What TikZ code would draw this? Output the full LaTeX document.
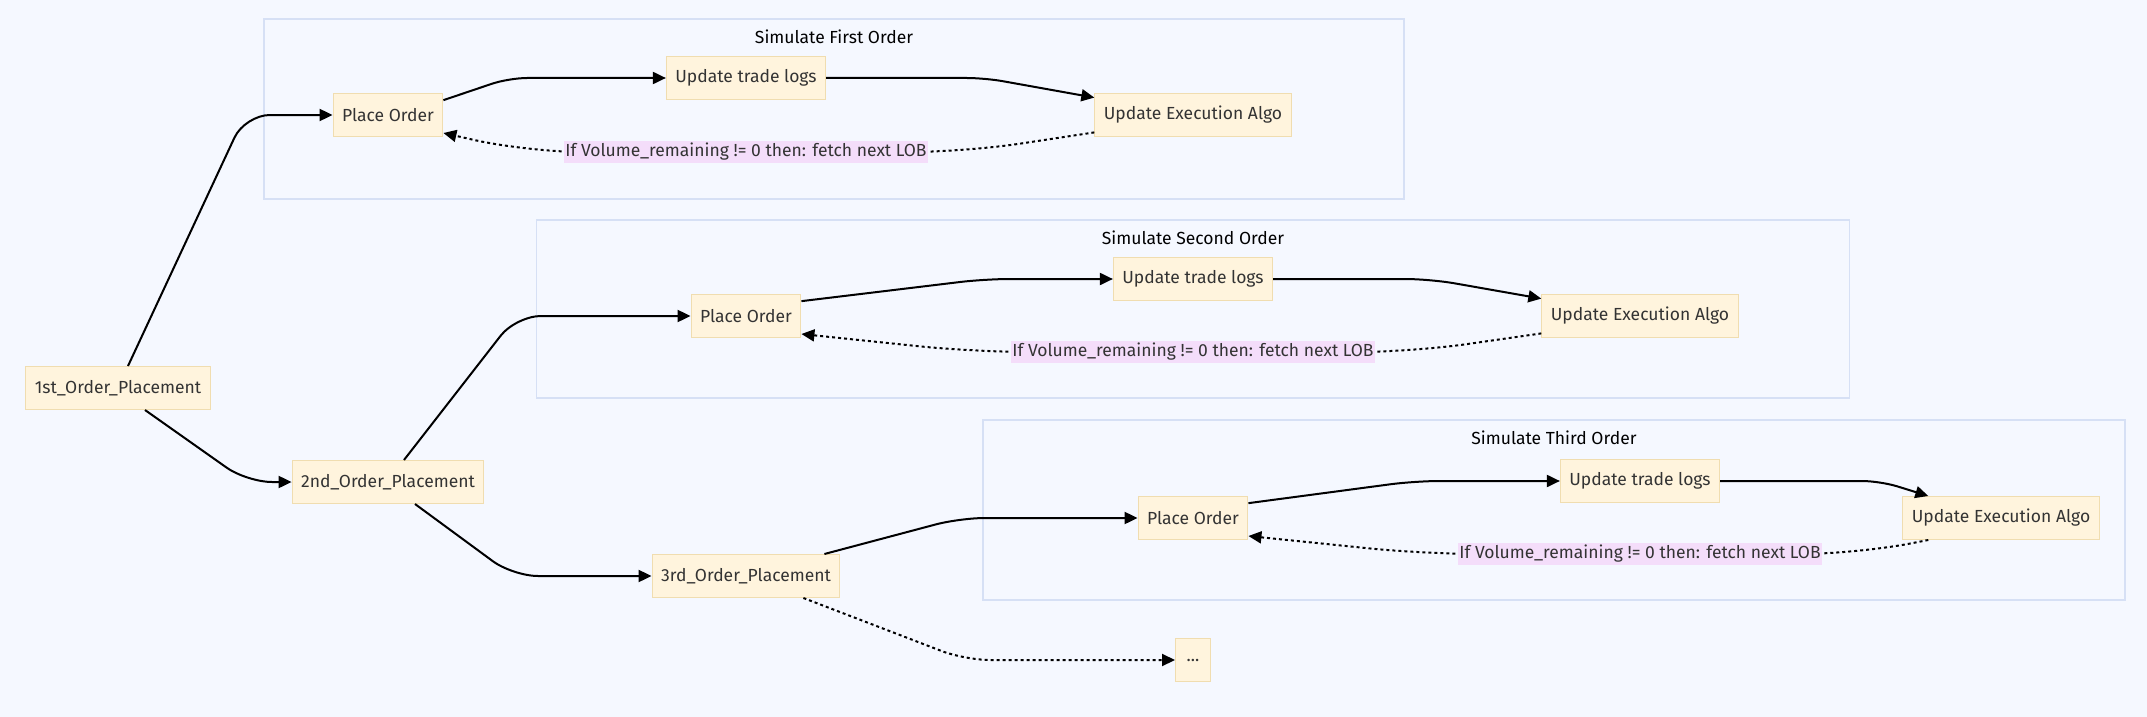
\documentclass[tikz,border=0pt]{standalone}
\usepackage{fontspec}
\setmainfont{Fira Sans}
\usetikzlibrary{arrows.meta, positioning}

\definecolor{pagebg}{HTML}{F5F8FF}
\definecolor{boxfill}{HTML}{FFF4DD}
\definecolor{boxline}{HTML}{F0DDB0}
\definecolor{clusterline}{HTML}{D6E0F5}
\definecolor{labelfill}{HTML}{F4DDFA}
\definecolor{inkgray}{HTML}{333333}

\begin{document}
\begin{tikzpicture}[
  x=1pt, y=-1pt,
  >={Triangle[length=13pt,width=12pt]},
  box/.style={
    draw=boxline, fill=boxfill, line width=1pt,
    minimum height=43pt, inner xsep=9pt,
    font=\fontsize{17.5}{20}\selectfont, text=inkgray
  },
  cluster/.style={
    draw=clusterline, fill=pagebg, line width=1.3pt
  },
  clustertitle/.style={font=\fontsize{17.5}{20}\selectfont, text=black},
  edgelabel/.style={
    sharp corners, fill=labelfill, inner xsep=1pt, inner ysep=2pt,
    font=\fontsize{17.5}{20}\selectfont, text=inkgray
  },
  arrow/.style={->, line width=2pt, rounded corners=25pt},
  loopback/.style={arrow, dash pattern=on 3pt off 3pt, rounded corners=55pt}
]
\useasboundingbox[fill=pagebg] (0,0) rectangle (2147,717);

% --- Subgraph frames ---
\node[cluster, minimum width=1140pt, minimum height=180pt] (simfirst)  at (834,109)  {};
\node[cluster, minimum width=1313pt, minimum height=178pt] (simsecond) at (1193,309) {};
\node[cluster, minimum width=1142pt, minimum height=180pt] (simthird)  at (1554,510) {};
\node[clustertitle, below=8pt of simfirst.north]  (tfirst)  {Simulate First Order};
\node[clustertitle, below=8pt of simsecond.north] (tsecond) {Simulate Second Order};
\node[clustertitle, below=8pt of simthird.north]  (tthird)  {Simulate Third Order};

% --- Order placement chain ---
\node[box] (first)  at (118,388) {1st\_Order\_Placement};
\node[box] (second) at (388,482) {2nd\_Order\_Placement};
\node[box] (third)  at (746,576) {3rd\_Order\_Placement};
\node[box, inner xsep=3pt, minimum width=35pt] (more) at (1193,660) {...};

% --- Simulation steps ---
\node[box] (placeA) at (388,115)  {Place Order};
\node[box] (logsA)  at (746,78)   {Update trade logs};
\node[box] (algoA)  at (1193,115) {Update Execution Algo};

\node[box] (placeB) at (746,316)  {Place Order};
\node[box] (logsB)  at (1193,279) {Update trade logs};
\node[box] (algoB)  at (1640,316) {Update Execution Algo};

\node[box] (placeC) at (1193,518) {Place Order};
\node[box] (logsC)  at (1640,481) {Update trade logs};
\node[box] (algoC)  at (2001,518) {Update Execution Algo};

% --- Chain edges ---
\draw[arrow] ([xshift=10pt]first.north) -- (245,115) -- (placeA.west);
\draw[arrow] ([xshift=27pt]first.south) -- (247,482) -- (second.west);
\draw[arrow] ([xshift=16pt]second.north) -- (516,316) -- (placeB.west);
\draw[arrow] ([xshift=27pt]second.south) -- (513,576) -- (third.west);
\draw[arrow] ([xshift=-16pt]third.north east) -- (960,518) -- (placeC.west);
\draw[arrow, dash pattern=on 3pt off 3pt] ([xshift=-37pt]third.south east) -- (965,660) -- (more.west);

% --- First order loop ---
\draw[arrow, rounded corners=18pt] (placeA.15) -- (509,78) -- (logsA.west);
\draw[arrow, rounded corners=18pt] (logsA.east) -- (985,78) -- (algoA.170);
\draw[loopback] (algoA.190) -- (965,152)
  -- node[edgelabel]{If Volume\_remaining != 0 then: fetch next LOB} (527,152) -- (placeA.-18);

% --- Second order loop ---
\draw[arrow] (placeB.15) -- (985,279) -- (logsB.west);
\draw[arrow] (logsB.east) -- (1430,279) -- (algoB.170);
\draw[loopback] (algoB.190) -- (1412,352)
  -- node[edgelabel]{If Volume\_remaining != 0 then: fetch next LOB} (974,352) -- (placeB.-18);

% --- Third order loop ---
\draw[arrow] (placeC.15) -- (1415,481) -- (logsC.west);
\draw[arrow, rounded corners=18pt] (logsC.east) -- (1880,481) -- ([xshift=26pt]algoC.north west);
\draw[loopback] ([xshift=26pt]algoC.south west) -- (1856,554)
  -- node[edgelabel]{If Volume\_remaining != 0 then: fetch next LOB} (1424,554) -- (placeC.-18);

\end{tikzpicture}
\end{document}
